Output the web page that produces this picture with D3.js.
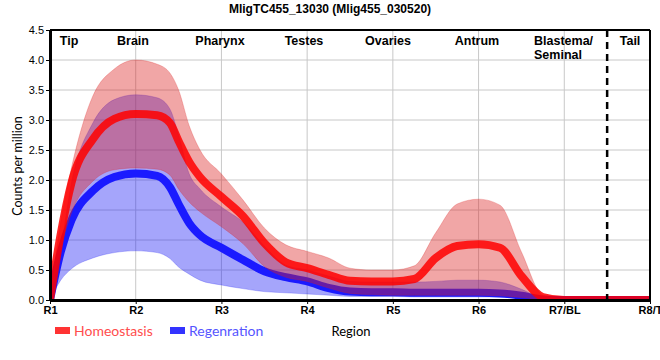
<!DOCTYPE html>
<html><head><meta charset="utf-8">
<script src="https://cdn.jsdelivr.net/npm/d3@7"></script>
<style>body{margin:0;background:#fff}svg{display:block}</style>
</head><body><svg id="c" width="660" height="360"></svg>
<script>
const title = "MligTC455_13030 (Mlig455_030520)";
const regions = ["R1","R2","R3","R4","R5","R6","R7/BL","R8/T"];
const yTicks = [0,0.5,1,1.5,2,2.5,3,3.5,4,4.5];
const tissues = [["Tip"],["Brain"],["Pharynx"],["Testes"],["Ovaries"],["Antrum"],["Blastema/","Seminal"],["Tail"]];
const tissuePos = [1.222,1.968,2.983,3.963,4.943,5.982,6.647,7.767];
const boundary = 7.5;
// sample positions along region axis (1 = R1 ... 8 = R8/T)
const pos = [1,1.125,1.25,1.5,1.75,2,2.25,2.4,2.5,2.625,2.75,3,3.25,3.5,3.75,4,4.25,4.5,4.75,5,5.25,5.5,5.75,6,6.25,6.5,6.75,7,7.5,8];
// Homeostasis
const homMean  = [0,1.1,1.95,2.68,3.02,3.1,3.08,2.95,2.65,2.3,2.05,1.72,1.4,0.95,0.63,0.53,0.42,0.32,0.31,0.31,0.35,0.7,0.9,0.93,0.87,0.4,0.05,0,0,0];
const homUpper = [0,1.3,2.2,3.4,3.85,4.0,3.93,3.78,3.5,2.9,2.5,2.1,1.67,1.2,0.92,0.81,0.7,0.53,0.5,0.5,0.57,1.12,1.6,1.68,1.58,0.8,0.08,0.02,0,0];
const homLower = [0,0.85,1.45,1.98,2.17,2.2,2.18,2.08,1.85,1.63,1.47,1.22,0.94,0.56,0.38,0.31,0.2,0.11,0.09,0.08,0.08,0.08,0.08,0.08,0.07,0.04,0.01,0,0,0];
// Regeneration
const regMean  = [0,0.8,1.33,1.82,2.05,2.11,2.07,1.88,1.6,1.28,1.08,0.87,0.67,0.48,0.38,0.31,0.2,0.14,0.13,0.13,0.12,0.12,0.12,0.12,0.11,0.07,0.01,0,0,0];
const regUpper = [0,0.85,1.95,2.95,3.34,3.42,3.37,3.18,2.75,2.1,1.85,1.55,1.3,0.9,0.58,0.5,0.4,0.31,0.3,0.3,0.3,0.31,0.33,0.33,0.3,0.18,0.03,0,0,0];
const regLower = [0,0.33,0.52,0.7,0.79,0.82,0.79,0.69,0.55,0.43,0.33,0.25,0.19,0.14,0.12,0.1,0.08,0.06,0.06,0.06,0.05,0.05,0.05,0.05,0.05,0.03,0.005,0,0,0];

const svg = d3.select("#c");
const L=50,R=650,T=30,B=300;
const x = d3.scaleLinear().domain([1,8]).range([L,R]);
const y = d3.scaleLinear().domain([0,4.5]).range([B,T]);

// grid
svg.append("g").selectAll("line").data(yTicks).join("line")
  .attr("x1",L).attr("x2",R).attr("y1",d=>y(d)).attr("y2",d=>y(d))
  .attr("stroke","#c8c8c8").attr("stroke-width",1);
svg.append("g").selectAll("line").data(regions).join("line")
  .attr("x1",(d,i)=>x(i+1)).attr("x2",(d,i)=>x(i+1)).attr("y1",T).attr("y2",B)
  .attr("stroke","#c8c8c8").attr("stroke-width",1);

svg.append("clipPath").attr("id","clip").append("rect")
  .attr("x",L).attr("y",T).attr("width",R-L).attr("height",B-T+1);
const g = svg.append("g").attr("clip-path","url(#clip)");

const curve = d3.curveMonotoneX;
const area = (lo,hi)=>d3.area().curve(curve).x((d,i)=>x(pos[i])).y0((d,i)=>y(lo[i])).y1((d,i)=>y(hi[i]));
const line = (v)=>d3.line().curve(curve).x((d,i)=>x(pos[i])).y((d,i)=>y(v[i]));

g.append("path").attr("d",area(regLower,regUpper)(pos)).attr("fill","#1e1ef5").attr("fill-opacity",0.4)
  .attr("stroke","#1e1ef5").attr("stroke-opacity",0.25).attr("stroke-width",1);
g.append("path").attr("d",line(regMean)(pos)).attr("fill","none").attr("stroke","#1a1aff").attr("stroke-width",8).attr("stroke-linejoin","round");
g.append("path").attr("d",area(homLower,homUpper)(pos)).attr("fill","#dc2020").attr("fill-opacity",0.4)
  .attr("stroke","#dc2020").attr("stroke-opacity",0.25).attr("stroke-width",1);
g.append("path").attr("d",line(homMean)(pos)).attr("fill","none").attr("stroke","#ff0000").attr("stroke-opacity",0.85).attr("stroke-width",8).attr("stroke-linejoin","round");

// frame
svg.append("line").attr("x1",L).attr("x2",R).attr("y1",T).attr("y2",T).attr("stroke","#000").attr("stroke-width",2);
svg.append("line").attr("x1",R).attr("x2",R).attr("y1",T).attr("y2",B).attr("stroke","#000").attr("stroke-width",2);

// dashed boundary
svg.append("line").attr("x1",x(boundary)).attr("x2",x(boundary)).attr("y1",T).attr("y2",B)
  .attr("stroke","#000").attr("stroke-width",2.5).attr("stroke-dasharray","7,5");

// axes
const ya = svg.append("g").attr("transform",`translate(${L},0)`)
  .call(d3.axisLeft(y).tickValues(yTicks).tickFormat(d3.format(".1f")).tickSize(4).tickSizeOuter(0));
ya.select(".domain").attr("stroke-width",3);
ya.selectAll("text").attr("font-family","Liberation Sans, Arial, sans-serif").attr("font-size",11).attr("fill","#000").attr("dx",1);
const xa = svg.append("g").attr("transform",`translate(0,${B})`)
  .call(d3.axisBottom(x).tickValues(d3.range(1,9)).tickFormat((d)=>regions[d-1]).tickSize(4).tickSizeOuter(0));
xa.select(".domain").attr("stroke-width",3);
xa.selectAll("text").attr("font-family","Liberation Sans, Arial, sans-serif").attr("font-size",11).attr("font-weight","bold").attr("fill","#000").attr("dy","0.6em");

// tissue labels
tissues.forEach((lines,i)=>{
  const multi = lines.length>1;
  const t = svg.append("text").attr("x",x(tissuePos[i])).attr("y",45)
    .attr("text-anchor", multi?"start":"middle")
    .attr("font-family","Liberation Sans, Arial, sans-serif").attr("font-size",12.5).attr("font-weight","bold");
  if(multi){
    lines.forEach((s,j)=>t.append("tspan").attr("x",x(tissuePos[i])).attr("dy",j?14:0).text(s));
  } else t.text(lines[0]);
});

// title
svg.append("text").attr("x",330).attr("y",13).attr("text-anchor","middle")
  .attr("font-family","Liberation Sans, Arial, sans-serif").attr("font-size",12).attr("font-weight","bold").text(title);

// axis titles
svg.append("text").attr("transform","translate(22,166) rotate(-90)").attr("text-anchor","middle")
  .attr("font-family","Lato, sans-serif").attr("font-size",12.5).text("Counts per million");
svg.append("text").attr("x",351).attr("y",336).attr("text-anchor","middle")
  .attr("font-family","Lato, sans-serif").attr("font-size",13).text("Region");

// legend
const legend = [["Homeostasis","#ff3333","#ff4d4d",55],["Regenration","#3333ff","#5555ff",170]];
legend.forEach(([name,sw,tc,lx])=>{
  svg.append("rect").attr("x",lx).attr("y",327).attr("width",15).attr("height",7).attr("fill",sw);
  svg.append("text").attr("x",lx+19).attr("y",336).attr("font-family","Lato, sans-serif").attr("font-size",14).attr("fill",tc).text(name);
});
</script></body></html>
